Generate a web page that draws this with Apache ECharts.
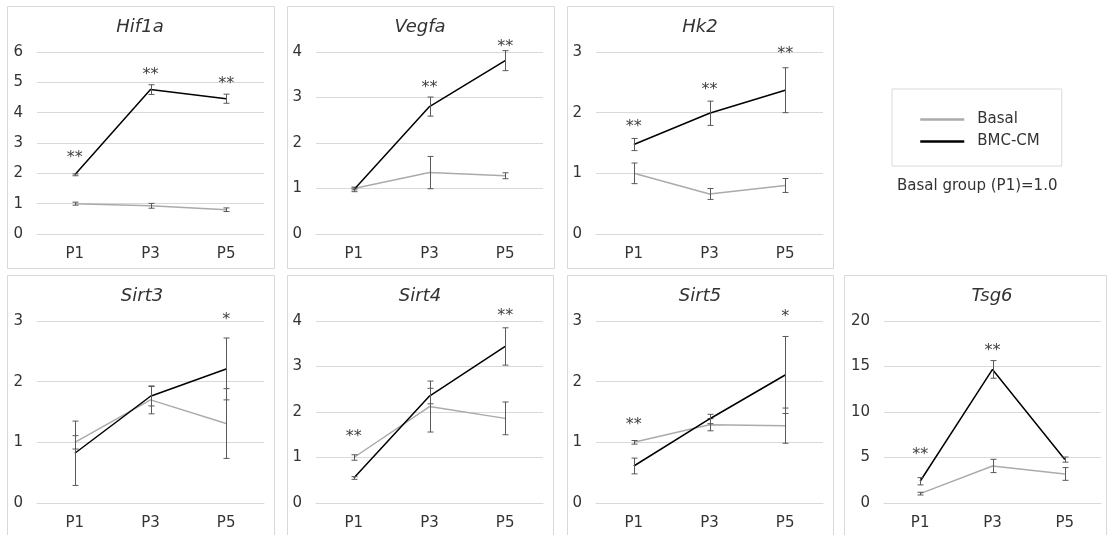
<!DOCTYPE html>
<html>
<head>
<meta charset="utf-8">
<title>Gene expression P1-P5</title>
<script src="https://cdn.jsdelivr.net/npm/echarts@6/dist/echarts.min.js"></script>
<style>
    html, body { margin: 0; padding: 0; background: #fff; }
    #chart { width: 1107px; height: 535px; }
</style>
</head>
<body>
<div id="chart"></div>
<script>
    // passages on the x axis
    var categories = ['P1', 'P3', 'P5'];
    var genes = ['Hif1a', 'Vegfa', 'Hk2', 'Sirt3', 'Sirt4', 'Sirt5', 'Tsg6'];

    // y axis range of each panel
    var yMax = [6, 4, 3, 3, 4, 3, 20];
    var yStep = [1, 1, 1, 1, 1, 1, 5];

    // Basal group (P1 = 1.0)
    var basalMean = [
        [1.00, 0.93, 0.80],   // Hif1a
        [1.00, 1.35, 1.28],   // Vegfa
        [1.00, 0.66, 0.80],   // Hk2
        [1.00, 1.70, 1.31],   // Sirt3
        [1.00, 2.12, 1.86],   // Sirt4
        [1.00, 1.29, 1.275],  // Sirt5
        [1.03, 4.07, 3.19]    // Tsg6
    ];
    var basalErr = [
        [0.05, 0.08, 0.06],
        [0.03, 0.355, 0.065],
        [0.17, 0.09, 0.115],
        [0.11, 0.23, 0.575],
        [0.06, 0.56, 0.36],
        [0.03, 0.10, 0.29],
        [0.15, 0.73, 0.70]
    ];

    // BMC-CM group
    var bmcMean = [
        [1.95, 4.76, 4.46],
        [0.97, 2.80, 3.81],
        [1.475, 1.99, 2.37],
        [0.82, 1.76, 2.21],
        [0.55, 2.35, 3.44],
        [0.61, 1.385, 2.11],
        [2.39, 14.68, 4.77]
    ];
    var bmcErr = [
        [0.03, 0.16, 0.15],
        [0.04, 0.21, 0.22],
        [0.10, 0.20, 0.37],
        [0.53, 0.16, 0.51],
        [0.03, 0.17, 0.41],
        [0.13, 0.077, 0.635],
        [0.40, 0.97, 0.28]
    ];

    // significance marks and the level (axis units) where they sit
    var sigMarks = [
        ['**', '**', '**'],
        ['', '**', '**'],
        ['**', '**', '**'],
        ['', '', '*'],
        ['**', '', '**'],
        ['**', '', '*'],
        ['**', '**', '']
    ];
    var sigLevel = [
        [2.64, 5.37, 5.09],
        [0, 3.29, 4.20],
        [1.83, 2.45, 3.04],
        [0, 0, 3.09],
        [1.54, 0, 4.20],
        [1.35, 0, 3.13],
        [5.76, 17.15, 0]
    ];

    var FONT = 'DejaVu Sans';
    var TEXT = '#333333';
    var LIGHT = '#d9d9d9';

    // layout: frame of each panel, plot area, title centre
    var frames = [
        [7, 6, 267, 262], [287, 6, 267, 262], [567, 6, 266, 262],
        [7, 275, 267, 270], [287, 275, 266, 270], [567, 275, 266, 270], [844, 275, 262, 270]
    ];
    var plots = [
        [37, 52, 227], [316, 52, 227], [596, 52, 227],
        [37, 321, 227], [316, 321, 227], [596, 321, 227], [884, 321, 217]
    ];
    var titleX = [140, 420, 700, 142, 420, 700, 992];

    function errorBar(params, api) {
        var x = api.value(0);
        var top = api.coord([x, api.value(2)]);
        var bot = api.coord([x, api.value(1)]);
        var cx = Math.round(top[0]) + 0.5;
        var style = { stroke: '#595959', lineWidth: 1 };
        return {
            type: 'group',
            children: [
                { type: 'line', shape: { x1: cx, y1: top[1], x2: cx, y2: bot[1] }, style: style },
                { type: 'line', shape: { x1: cx - 3, y1: top[1], x2: cx + 3, y2: top[1] }, style: style },
                { type: 'line', shape: { x1: cx - 3, y1: bot[1], x2: cx + 3, y2: bot[1] }, style: style }
            ]
        };
    }

    var grid = [], xAxis = [], yAxis = [], series = [], title = [], graphic = [];

    genes.forEach(function (gene, g) {
        var p = plots[g];
        grid.push({ left: p[0], top: p[1], width: p[2], height: 182 });

        xAxis.push({
            type: 'category',
            gridIndex: g,
            data: categories,
            axisLine: { lineStyle: { color: LIGHT } },
            axisTick: { show: false },
            axisLabel: { fontFamily: FONT, fontSize: 15, color: TEXT, margin: 13 }
        });
        yAxis.push({
            type: 'value',
            gridIndex: g,
            min: 0,
            max: yMax[g],
            interval: yStep[g],
            axisLine: { show: false },
            axisTick: { show: false },
            splitLine: { lineStyle: { color: LIGHT } },
            axisLabel: { fontFamily: FONT, fontSize: 15, color: TEXT, margin: 14 }
        });

        title.push({
            text: gene,
            left: titleX[g],
            top: frames[g][1] + 12,
            textAlign: 'center',
            padding: 0,
            textStyle: { fontFamily: FONT, fontSize: 18, fontStyle: 'italic', fontWeight: 'normal', color: TEXT }
        });

        var f = frames[g];
        graphic.push({
            type: 'rect',
            shape: { x: f[0] + 0.5, y: f[1] + 0.5, width: f[2], height: f[3] },
            style: { fill: 'none', stroke: LIGHT, lineWidth: 1 },
            silent: true
        });

        var basalBars = basalMean[g].map(function (v, i) {
            return [i, v - basalErr[g][i], v + basalErr[g][i]];
        });
        var bmcBars = bmcMean[g].map(function (v, i) {
            return [i, v - bmcErr[g][i], v + bmcErr[g][i]];
        });

        series.push({
            name: 'Basal', type: 'line', xAxisIndex: g, yAxisIndex: g,
            data: basalMean[g], symbol: 'none', z: 2,
            lineStyle: { color: '#ababab', width: 1.5 }, itemStyle: { color: '#ababab' }
        });
        series.push({
            name: 'Basal error', type: 'custom', xAxisIndex: g, yAxisIndex: g,
            data: basalBars, renderItem: errorBar, z: 3, silent: true
        });
        series.push({
            name: 'BMC-CM', type: 'line', xAxisIndex: g, yAxisIndex: g,
            data: bmcMean[g], symbol: 'none', z: 4,
            lineStyle: { color: '#000000', width: 1.5 }, itemStyle: { color: '#000000' }
        });
        series.push({
            name: 'BMC-CM error', type: 'custom', xAxisIndex: g, yAxisIndex: g,
            data: bmcBars, renderItem: errorBar, z: 5, silent: true
        });

        var marks = [], texts = [];
        sigMarks[g].forEach(function (m, i) {
            if (m) {
                marks.push([i, sigLevel[g][i]]);
                texts.push(m);
            }
        });
        series.push({
            name: 'sig', type: 'custom', xAxisIndex: g, yAxisIndex: g,
            data: marks, z: 6, silent: true, clip: false,
            renderItem: function (params, api) {
                var pt = api.coord([api.value(0), api.value(1)]);
                return {
                    type: 'text',
                    style: {
                        text: texts[params.dataIndex],
                        x: pt[0], y: pt[1] + 4,
                        align: 'center', verticalAlign: 'middle',
                        font: '16px "DejaVu Sans"', fill: '#404040'
                    }
                };
            }
        });
    });

    title.push({
        text: 'Basal group (P1)=1.0',
        left: 897,
        top: 179,
        padding: 0,
        textStyle: { fontFamily: FONT, fontSize: 15, fontWeight: 'normal', color: TEXT }
    });

    var chart = echarts.init(document.getElementById('chart'));
    chart.setOption({
        animation: false,
        backgroundColor: '#ffffff',
        title: title,
        grid: grid,
        xAxis: xAxis,
        yAxis: yAxis,
        legend: {
            data: ['Basal', 'BMC-CM'],
            orient: 'vertical',
            left: 892,
            top: 89,
            padding: [23, 22, 17, 27],
            itemGap: 7,
            itemWidth: 44,
            itemHeight: 15,
            borderColor: LIGHT,
            borderWidth: 1,
            itemStyle: { opacity: 0 },
            lineStyle: { width: 2.5 },
            textStyle: { fontFamily: FONT, fontSize: 15, color: TEXT, padding: [0, 0, 0, 8] }
        },
        graphic: graphic,
        series: series
    });
</script>
</body>
</html>
